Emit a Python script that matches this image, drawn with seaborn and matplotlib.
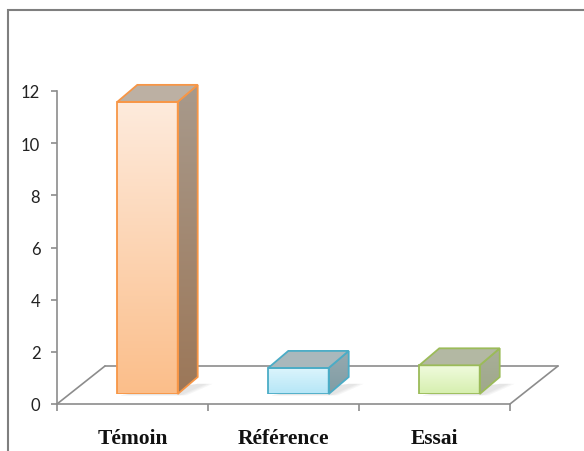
import numpy as np
import pandas as pd
import matplotlib
matplotlib.use("Agg")
import matplotlib.pyplot as plt
import seaborn as sns
from matplotlib.colors import LinearSegmentedColormap
from matplotlib.patches import Polygon, Rectangle

categories = ["Témoin", "Référence", "Essai"]
values = [11.2, 1.0, 1.1]
yticks = [0, 2, 4, 6, 8, 10, 12]

front_top = ["#FEEBDD", "#DDF5FC", "#F0FBDE"]
front_bot = ["#FBBE8A", "#B5E6F7", "#D6EFAE"]
side_top = ["#A89A8C", "#97AAB0", "#A9AF9A"]
side_bot = ["#9C7758", "#7F9CA4", "#9FA88A"]
top_col = ["#BCB0A3", "#A9B8BC", "#B3B8A3"]
edge_col = ["#F79646", "#4BACC6", "#9BBB59"]

sns.set_theme(style="white")
plt.rcParams["font.family"] = ["Lato", "DejaVu Sans"]

W, H = 584, 452
fig = plt.figure(figsize=(W / 100, H / 100), dpi=100)

def fx(px):
    return px / W

def fy(py):
    return (H - py) / H

# front-plane axes (axis + floor)
x_left, x_right = 57, 510
y0_px, y12_px = 405, 92
ax = fig.add_axes([fx(x_left), fy(y0_px), fx(x_right) - fx(x_left), fy(y12_px) - fy(y0_px)])
# bar-plane axes (shifted into depth)
sx, sy = 15, 10
axb = fig.add_axes([fx(x_left + sx), fy(y0_px - sy), fx(x_right) - fx(x_left), fy(y12_px) - fy(y0_px)])

for a in (ax, axb):
    a.set_xlim(-0.5, 2.5)
    a.set_ylim(0, 12)
    a.patch.set_alpha(0)

axb.set_zorder(3)
ax.set_zorder(2)

px_per_x = (x_right - x_left) / 3.0
px_per_y = (y0_px - y12_px) / 12.0

# floor
fdx, fdy = 48 / px_per_x, 38 / px_per_y
floor_col = "#8C8C8C"
ax.plot([-0.5, 2.5], [0, 0], color=floor_col, lw=1.2, clip_on=False)
ax.plot([-0.5 + fdx, 2.5 + fdx], [fdy, fdy], color=floor_col, lw=1.2, clip_on=False)
ax.plot([-0.5, -0.5 + fdx], [0, fdy], color=floor_col, lw=1.2, clip_on=False)
ax.plot([2.5, 2.5 + fdx], [0, fdy], color=floor_col, lw=1.2, clip_on=False)

for s in ["top", "right", "bottom"]:
    ax.spines[s].set_visible(False)
ax.spines["left"].set_color(floor_col)
ax.spines["left"].set_linewidth(1.2)
ax.set_yticks(yticks)
ax.set_yticklabels([str(v) for v in yticks], fontsize=12, color="#222222")
ax.tick_params(axis="y", direction="out", length=4, width=1.2, color=floor_col, pad=8, left=True)
ax.set_xticks(range(len(categories)))
ax.set_xticklabels(categories, fontsize=15.5, fontweight="bold", family=["Liberation Serif"], color="#111111")
ax.set_xticks([-0.5, 0.5, 1.5, 2.5], minor=True)
ax.tick_params(axis="x", which="major", length=0, pad=17)
ax.tick_params(axis="x", which="minor", direction="out", length=5, width=1.2, color=floor_col, bottom=True)
ax.set_xlabel("")
ax.set_ylabel("")

# bars
df = pd.DataFrame({"cat": categories, "val": values})
sns.barplot(data=df, x="cat", y="val", hue="cat", palette=edge_col, width=0.4,
            legend=False, ax=axb, saturation=1)
axb.set_xlim(-0.5, 2.5)
axb.set_ylim(0, 12)
axb.axis("off")

ddx, ddy = 20 / px_per_x, 17 / px_per_y
bars = sorted(axb.patches, key=lambda p: p.get_x())
grad = np.linspace(0, 1, 256).reshape(-1, 1)
for i, p in enumerate(bars):
    x0 = p.get_x()
    w = p.get_width()
    h = p.get_height()
    x1 = x0 + w
    # soft floor shadow
    for k, al in enumerate([0.05, 0.05, 0.05]):
        off = 0.02 * (k + 1)
        sh = Polygon([(x0 + 0.02, -0.05), (x1 + off, -0.05), (x1 + ddx + off + 0.04, ddy * 0.6),
                      (x1 + ddx, ddy * 0.6)], closed=True, facecolor="#555555", edgecolor="none",
                     alpha=al, zorder=2, clip_on=False)
        axb.add_patch(sh)
    p.set_facecolor("none")
    p.set_edgecolor(edge_col[i])
    p.set_linewidth(1.3)
    p.set_zorder(5)
    cm_front = LinearSegmentedColormap.from_list("f%d" % i, [front_top[i], front_bot[i]])
    im = axb.imshow(grad, cmap=cm_front, extent=[x0, x1, 0, h], origin="upper",
                    aspect="auto", zorder=4)
    im.set_clip_path(p)
    # side face
    side = Polygon([(x1, 0), (x1, h), (x1 + ddx, h + ddy), (x1 + ddx, ddy)], closed=True,
                   facecolor="none", edgecolor=edge_col[i], lw=1.3, zorder=5, clip_on=False)
    axb.add_patch(side)
    cm_side = LinearSegmentedColormap.from_list("s%d" % i, [side_top[i], side_bot[i]])
    im2 = axb.imshow(grad, cmap=cm_side, extent=[x1, x1 + ddx, 0, h + ddy], origin="upper",
                     aspect="auto", zorder=4)
    im2.set_clip_path(side)
    # top face
    top = Polygon([(x0, h), (x1, h), (x1 + ddx, h + ddy), (x0 + ddx, h + ddy)], closed=True,
                  facecolor=top_col[i], edgecolor=edge_col[i], lw=1.3, zorder=5, clip_on=False)
    axb.add_patch(top)
axb.set_xlim(-0.5, 2.5)
axb.set_ylim(0, 12)

# outer chart border
fig.patches.append(Rectangle((fx(8), -0.1), 1.2, fy(11) + 0.1, transform=fig.transFigure,
                             facecolor="none", edgecolor="#7F7F7F", lw=1.5, figure=fig))

fig.savefig("out.png", dpi=100, facecolor="white")
